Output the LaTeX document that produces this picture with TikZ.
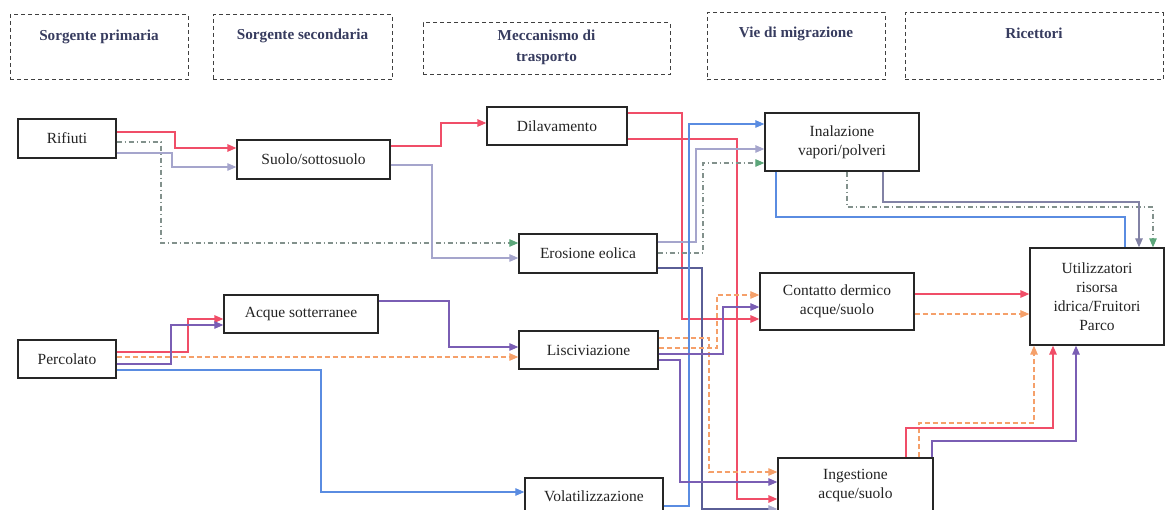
\documentclass[tikz,border=0pt]{standalone}
\usepackage{fontspec}
\setmainfont{Liberation Serif}
\usetikzlibrary{arrows.meta}
\definecolor{cRed}{RGB}{240,78,104}
\definecolor{cLav}{RGB}{165,165,204}
\definecolor{cGreen}{RGB}{92,166,122}
\definecolor{cDD}{RGB}{130,145,140}
\definecolor{cBlue}{RGB}{90,140,225}
\definecolor{cPur}{RGB}{122,94,180}
\definecolor{cOra}{RGB}{245,160,106}
\definecolor{cNavy}{RGB}{90,94,150}
\definecolor{cGray}{RGB}{130,130,165}
\definecolor{cHead}{RGB}{55,60,95}
\definecolor{cTxt}{RGB}{35,35,35}
\begin{document}
\begin{tikzpicture}[x=1pt,y=-1pt,
  box/.style={draw=black!85, line width=1.3pt, rectangle, inner sep=0pt, text=cTxt, align=center, font=\fontsize{15.5}{19}\selectfont},
  head/.style={draw=black!75, line width=1pt, dash pattern=on 4pt off 3pt, rectangle, inner sep=0pt},
  headtext/.style={text=cHead, font=\fontsize{15.2}{20.5}\selectfont\bfseries, align=center, anchor=north},
  tipA/.style={-{Triangle[length=9pt,width=7.5pt]}},
  lnRed/.style={draw=cRed, line width=1.4pt, tipA},
  lnLav/.style={draw=cLav, line width=1.2pt, tipA},
  lnDD/.style={draw=cDD, line width=1.1pt, dash pattern=on 5pt off 3pt on 1pt off 3pt, -{Triangle[length=9pt,width=7.5pt,color=cGreen]}},
  lnBlue/.style={draw=cBlue, line width=1.2pt, tipA},
  lnBlueN/.style={draw=cBlue, line width=1.2pt},
  lnPur/.style={draw=cPur, line width=1.2pt, tipA},
  lnOra/.style={draw=cOra, line width=1.2pt, dash pattern=on 5pt off 3pt, tipA},
  lnNavy/.style={draw=cNavy, line width=1.2pt, -{Triangle[length=9pt,width=7.5pt,color=cLav]}},
  lnGray/.style={draw=cGray, line width=1.2pt, tipA}
]
\useasboundingbox (0,0) rectangle (1165,510);
\clip (0,0) rectangle (1165,510);

% header boxes
\node[head, minimum width=178pt, minimum height=65pt, label={[headtext,yshift=-12pt]north:Sorgente primaria}] (h1) at (99,47.5) {};
\node[head, minimum width=179pt, minimum height=65pt, label={[headtext,yshift=-11pt]north:Sorgente secondaria}] (h2) at (302.5,47.5) {};
\node[head, minimum width=247pt, minimum height=52pt, label={[headtext,yshift=-4pt]north:Meccanismo di\\trasporto}] (h3) at (546.5,49) {};
\node[head, minimum width=178pt, minimum height=67pt, label={[headtext,yshift=-11pt]north:Vie di migrazione}] (h4) at (796,46.5) {};
\node[head, minimum width=258pt, minimum height=67pt, label={[headtext,yshift=-12pt]north:Ricettori}] (h5) at (1034,46.5) {};

% main nodes
\node[box, minimum width=98pt, minimum height=39pt] (rif) at (67,138.5) {Rifiuti};
\node[box, minimum width=153pt, minimum height=39pt] (suolo) at (313.5,159.5) {Suolo/sottosuolo};
\node[box, minimum width=140pt, minimum height=38pt] (dil) at (557,126) {Dilavamento};
\node[box, minimum width=138pt, minimum height=39pt] (ero) at (588,253.5) {Erosione eolica};
\node[box, minimum width=154pt, minimum height=58pt] (inal) at (842,142) {Inalazione\\vapori/polveri};
\node[box, minimum width=134pt, minimum height=97pt] (util) at (1097,296.5) {Utilizzatori\\risorsa\\idrica/Fruitori\\Parco};
\node[box, minimum width=154pt, minimum height=57pt] (cont) at (837,301.5) {Contatto dermico\\acque/suolo};
\node[box, minimum width=154pt, minimum height=38pt] (acq) at (301,314) {Acque sotterranee};
\node[box, minimum width=98pt, minimum height=38pt] (perc) at (67,359) {Percolato};
\node[box, minimum width=139pt, minimum height=38pt] (lisc) at (588.5,350) {Lisciviazione};
\node[box, minimum width=138pt, minimum height=36pt] (vol) at (594,496) {Volatilizzazione};
\node[box, minimum width=155pt, minimum height=56pt] (ing) at (855.5,486) {Ingestione\\acque/suolo};

% connectors from Rifiuti
\draw[lnRed] (rif.east|-0,132) -- (175,132) |- (suolo.west|-0,148);
\draw[lnDD] (rif.east|-0,142) -- (161,142) |- (ero.west|-0,243);
\draw[lnLav] (rif.east|-0,153) -- (172,153) |- (suolo.west|-0,167);
% from Suolo
\draw[lnRed] (suolo.east|-0,146) -- (441,146) |- (dil.west|-0,123);
\draw[lnLav] (suolo.east|-0,165) -- (432,165) |- (ero.west|-0,258);
% from Dilavamento
\draw[lnRed] (dil.east|-0,113) -- (682,113) |- (cont.west|-0,319);
\draw[lnRed] (dil.east|-0,139) -- (737,139) |- (ing.west|-0,499);
% from Erosione
\draw[lnLav] (ero.east|-0,242) -- (696,242) |- (inal.west|-0,149);
\draw[lnDD] (ero.east|-0,253) -- (703,253) |- (inal.west|-0,163);
\draw[lnNavy] (ero.east|-0,268) -- (702,268) |- (ing.west|-0,509);
% from Volatilizzazione
\draw[lnBlue] (vol.east|-0,506) -- (689,506) |- (inal.west|-0,124);
% from Percolato
\draw[lnRed] (perc.east|-0,352) -- (188,352) |- (acq.west|-0,319);
\draw[lnPur] (perc.east|-0,364) -- (171,364) |- (acq.west|-0,325);
\draw[lnOra] (perc.east|-0,357) -- (lisc.west|-0,357);
\draw[lnBlue] (perc.east|-0,370) -- (321,370) |- (vol.west|-0,492);
% from Acque sotterranee
\draw[lnPur] (acq.east|-0,301) -- (449,301) |- (lisc.west|-0,347);
% from Lisciviazione
\draw[lnOra] (lisc.east|-0,338) -- (709,338) |- (ing.west|-0,472);
\draw[lnOra] (lisc.east|-0,348) -- (717,348) |- (cont.west|-0,295);
\draw[lnPur] (lisc.east|-0,354) -- (723,354) |- (cont.west|-0,307);
\draw[lnPur] (lisc.east|-0,360) -- (680,360) |- (ing.west|-0,482);
% from Inalazione
\draw[lnBlueN] (inal.south-|776,0) |- (1125,217) -- (util.north-|1125,0);
\draw[lnDD] (inal.south-|847,0) |- (1153,207) -- (util.north-|1153,0);
\draw[lnGray] (inal.south-|883,0) |- (1139,202) -- (util.north-|1139,0);
% from Contatto
\draw[lnRed] (cont.east|-0,294) -- (util.west|-0,294);
\draw[lnOra] (cont.east|-0,314) -- (util.west|-0,314);
% from Ingestione
\draw[lnOra] (ing.north-|919,0) |- (1034,423) -- (util.south-|1034,0);
\draw[lnRed] (ing.north-|906,0) |- (1053,428) -- (util.south-|1053,0);
\draw[lnPur] (ing.north-|932,0) |- (1076,441) -- (util.south-|1076,0);
\end{tikzpicture}
\end{document}
